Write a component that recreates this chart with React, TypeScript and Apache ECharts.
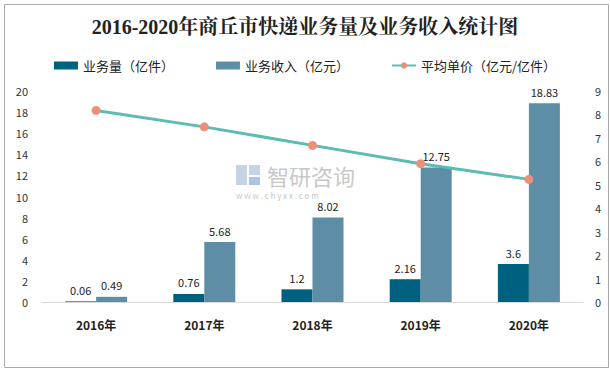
import React, { useEffect, useRef } from "react";
import * as echarts from "echarts";

const categories = ["2016年", "2017年", "2018年", "2019年", "2020年"];
const volume = [0.06, 0.76, 1.2, 2.16, 3.6];
const revenue = [0.49, 5.68, 8.02, 12.75, 18.83];
const unitPrice = [8.17, 7.47, 6.68, 5.9, 5.23];

export default function App() {
  const ref = useRef<HTMLDivElement>(null);
  useEffect(() => {
    const chart = echarts.init(ref.current!, undefined, { renderer: "svg" });
    const font = "'Noto Sans CJK SC', 'Noto Sans', sans-serif";
    chart.setOption({
      animation: false,
      backgroundColor: "#fff",
      title: {
        text: "2016-2020年商丘市快递业务量及业务收入统计图",
        left: "center",
        top: 12,
        textStyle: { fontFamily: "'Liberation Serif', 'Noto Serif CJK SC', serif", fontSize: 20, fontWeight: "bold", color: "#222" },
      },
      legend: {
        top: 54,
        left: "center",
        itemWidth: 24,
        itemHeight: 8,
        itemGap: 42,
        textStyle: { fontFamily: font, fontSize: 13, color: "#222" },
        data: [
          { name: "业务量（亿件）", icon: "rect" },
          { name: "业务收入（亿元）", icon: "rect" },
          { name: "平均单价（亿元/亿件）" },
        ],
      },
      grid: { left: 42, right: 27, top: 91, bottom: 68 },
      xAxis: {
        type: "category",
        data: categories,
        axisTick: { show: false },
        axisLine: { lineStyle: { color: "#d9d9d9", width: 1 } },
        axisLabel: { fontFamily: font, fontSize: 12, fontWeight: "bold", color: "#222", margin: 16 },
      },
      yAxis: [
        {
          type: "value",
          min: 0,
          max: 20,
          interval: 2,
          splitLine: { show: false },
          axisLabel: { fontFamily: font, fontSize: 11, color: "#333", margin: 14 },
        },
        {
          type: "value",
          min: 0,
          max: 9,
          interval: 1,
          splitLine: { show: false },
          axisLabel: { fontFamily: font, fontSize: 11, color: "#333", margin: 12 },
        },
      ],
      series: [
        {
          name: "业务量（亿件）",
          type: "bar",
          data: volume,
          barWidth: 31,
          barGap: "0%",
          itemStyle: { color: "#00607f" },
          label: { show: true, position: "top", fontFamily: font, fontSize: 11, color: "#222", distance: 6 },
        },
        {
          name: "业务收入（亿元）",
          type: "bar",
          data: revenue,
          barWidth: 31,
          itemStyle: { color: "#5e8ea6" },
          label: { show: true, position: "top", fontFamily: font, fontSize: 11, color: "#222", distance: 6 },
        },
        {
          name: "平均单价（亿元/亿件）",
          type: "line",
          yAxisIndex: 1,
          data: unitPrice,
          symbol: "circle",
          symbolSize: 9,
          lineStyle: { color: "#5bbcb2", width: 3 },
          itemStyle: { color: "#ec8f78" },
          z: 5,
        },
      ],
      graphic: [
        {
          type: "rect",
          left: 2,
          top: 2,
          shape: { width: 604, height: 363 },
          style: { fill: "none", stroke: "#aaa", lineWidth: 1 },
          silent: true,
        },
        {
          type: "group",
          left: 236,
          top: 164,
          z: 0,
          silent: true,
          children: [
            { type: "rect", shape: { x: 0, y: 2, width: 11, height: 20 }, style: { fill: "#c6d3e6" } },
            { type: "rect", shape: { x: 13, y: 2, width: 11, height: 10 }, style: { fill: "#c6d3e6" } },
            { type: "rect", shape: { x: 13, y: 14, width: 11, height: 8 }, style: { fill: "#a9c5e8" } },
            {
              type: "text",
              x: 31,
              y: 1,
              style: { text: "智研咨询", fontFamily: font, fontSize: 22, lineHeight: 22, fill: "#c8c8c8" },
            },
            {
              type: "text",
              x: 0,
              y: 28,
              style: { text: "w w w . c h y x x . c o m", fontFamily: font, fontSize: 8, lineHeight: 8, fill: "#c8c8c8" },
            },
          ],
        },
      ],
    });
    return () => chart.dispose();
  }, []);
  return <div ref={ref} style={{ width: 610, height: 370, position: "absolute", left: 0, top: 0 }} />;
}
